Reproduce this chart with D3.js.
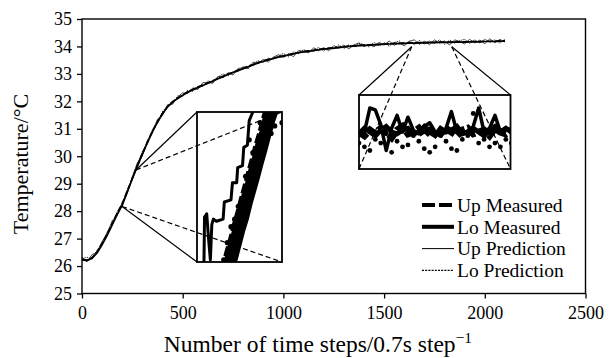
<!DOCTYPE html>
<html>
<head>
<meta charset="utf-8">
<script src="https://cdn.jsdelivr.net/npm/d3@7"></script>
<style>
  body { margin: 0; background: #fff; }
  svg { display: block; }
  svg text { font-family: "Liberation Serif", "Times New Roman", serif; fill: #000; }
</style>
</head>
<body>
<svg id="chart" width="609" height="358"></svg>
<script>
// ---- data ----
const xTicks = [0, 500, 1000, 1500, 2000, 2500];
const yTicks = [25, 26, 27, 28, 29, 30, 31, 32, 33, 34, 35];

const steps = [0, 25, 50, 75, 100, 125, 150, 175, 200, 225, 250, 275, 300, 325, 350, 375, 400, 425, 450, 475,
  500, 525, 550, 575, 600, 625, 650, 675, 700, 725, 750, 775, 800, 825, 850, 875, 900, 925, 950, 975,
  1000, 1025, 1050, 1075, 1100, 1125, 1150, 1175, 1200, 1225, 1250, 1275, 1300, 1325, 1350, 1375, 1400, 1425, 1450, 1475,
  1500, 1525, 1550, 1575, 1600, 1625, 1650, 1675, 1700, 1725, 1750, 1775, 1800, 1825, 1850, 1875, 1900, 1925, 1950, 1975,
  2000, 2025, 2050, 2075, 2100];

const loMeasured = [26.22, 26.2, 26.28, 26.48, 26.78, 27.12, 27.5, 27.88, 28.22, 28.7, 29.18, 29.64, 30.08, 30.5, 30.9, 31.25, 31.55, 31.8, 31.98, 32.1,
  32.22, 32.33, 32.42, 32.5, 32.58, 32.66, 32.74, 32.82, 32.9, 32.98, 33.05, 33.12, 33.19, 33.26, 33.33, 33.4, 33.46, 33.51, 33.56, 33.61,
  33.65, 33.69, 33.73, 33.77, 33.8, 33.83, 33.85, 33.88, 33.9, 33.92, 33.94, 33.96, 33.98, 34.0, 34.01, 34.03, 34.04, 34.05, 34.06, 34.07,
  34.08, 34.09, 34.1, 34.1, 34.11, 34.12, 34.12, 34.13, 34.13, 34.14, 34.14, 34.15, 34.15, 34.15, 34.16, 34.16, 34.16, 34.17, 34.17, 34.17,
  34.18, 34.18, 34.18, 34.19, 34.19];

const upMeasured = [26.24, 26.22, 26.31, 26.52, 26.82, 27.17, 27.55, 27.93, 28.27, 28.74, 29.2, 29.66, 30.1, 30.52, 30.91, 31.26, 31.56, 31.81, 31.99, 32.12,
  32.23, 32.35, 32.43, 32.52, 32.59, 32.68, 32.75, 32.84, 32.91, 33.0, 33.06, 33.14, 33.2, 33.28, 33.34, 33.41, 33.47, 33.53, 33.57, 33.62,
  33.66, 33.7, 33.74, 33.78, 33.81, 33.84, 33.86, 33.89, 33.91, 33.93, 33.95, 33.97, 33.99, 34.01, 34.02, 34.04, 34.05, 34.06, 34.07, 34.08,
  34.09, 34.1, 34.11, 34.11, 34.12, 34.13, 34.13, 34.14, 34.14, 34.15, 34.15, 34.16, 34.16, 34.16, 34.17, 34.17, 34.17, 34.18, 34.18, 34.18,
  34.19, 34.19, 34.19, 34.2, 34.2];

const upPrediction = [26.32, 26.16, 26.42, 26.5, 26.9, 27.18, 27.65, 27.86, 28.32, 28.65, 29.26, 29.76, 30.02, 30.57, 30.87, 31.35, 31.49, 31.88, 31.9, 32.16,
  32.31, 32.28, 32.49, 32.43, 32.68, 32.68, 32.66, 32.91, 32.86, 33.04, 32.96, 33.2, 33.22, 33.2, 33.43, 33.37, 33.53, 33.43, 33.61, 33.7,
  33.6, 33.73, 33.63, 33.85, 33.82, 33.77, 33.95, 33.84, 33.96, 33.84, 34.03, 33.94, 34.05, 33.91, 34.06, 34.13, 33.99, 34.08, 33.98, 34.15,
  34.05, 34.2, 34.04, 34.14, 34.02, 34.19, 34.24, 34.08, 34.19, 34.06, 34.24, 34.12, 34.2, 34.05, 34.24, 34.18, 34.09, 34.26, 34.13, 34.23,
  34.1, 34.28, 34.13, 34.26, 34.16];

const loPrediction = [26.27, 26.32, 26.25, 26.58, 26.82, 27.25, 27.48, 27.99, 28.27, 28.79, 29.14, 29.71, 30.18, 30.45, 30.98, 31.19, 31.64, 31.82, 31.91, 32.2,
  32.18, 32.41, 32.36, 32.55, 32.55, 32.75, 32.69, 32.88, 33.0, 32.92, 33.09, 33.08, 33.28, 33.19, 33.38, 33.48, 33.41, 33.57, 33.53, 33.65,
  33.75, 33.62, 33.8, 33.74, 33.89, 33.78, 33.88, 33.96, 33.83, 33.97, 33.9, 34.06, 33.92, 34.06, 33.99, 34.11, 34.07, 33.98, 34.15, 34.02,
  34.14, 34.01, 34.14, 34.2, 34.07, 34.19, 34.06, 34.22, 34.08, 34.2, 34.12, 34.24, 34.08, 34.23, 34.12, 34.21, 34.26, 34.11, 34.24, 34.12,
  34.27, 34.15, 34.24, 34.12, 34.27];

// magnified region 1 (early rise)
const zoom1Steps = [199, 268];
const zoom1Temps = [28.17, 29.5];
const z1Steps = [216, 219, 222, 225, 228, 231, 234, 237, 240, 243, 246, 249, 252, 255, 258, 261, 264, 267, 270];
const z1LoMeasured = [27.7, 27.82, 27.96, 28.07, 28.21, 28.32, 28.46, 28.58, 28.71, 28.82, 28.96, 29.07, 29.21, 29.31, 29.45, 29.56, 29.7, 29.8, 29.93];
const z1UpMeasured = [27.8, 27.94, 28.06, 28.19, 28.31, 28.44, 28.56, 28.69, 28.81, 28.94, 29.06, 29.19, 29.3, 29.43, 29.55, 29.67, 29.81, 29.91, 30.03];
const z1UpPrediction = [27.52, 27.64, 27.77, 27.9, 28.02, 28.14, 28.27, 28.4, 28.51, 28.65, 28.77, 28.89, 29.02, 29.14, 29.27, 29.4, 29.5, 29.64, 29.76];
const z1LoPrediction = [27.88, 28.02, 28.12, 28.28, 28.43, 28.5, 28.62, 28.66, 28.9, 29.24, 29.12, 29.05, 29.4, 29.18, 29.62, 29.3, 29.37, 29.92, 29.4];
const z1StairSteps = [205.5, 205.8, 206.2, 208, 209.5, 211, 212.2, 213.5, 216, 221.5, 222.5, 228, 229.2, 232.7, 233.5, 237.5, 238.5, 241.5, 243, 246, 247];
const z1StairTemps = [27.95, 28.15, 28.52, 28.55, 28.32, 28.12, 28.45, 28.5, 28.48, 28.5, 28.66, 28.68, 28.84, 28.84, 28.98, 29.0, 29.17, 29.19, 29.42, 29.5, 29.62];

// magnified region 2 (plateau)
const zoom2Steps = [1637, 1836];
const zoom2Temps = [33.99, 33.99];
const z2Steps = [1640, 1647, 1654, 1661, 1668, 1675, 1682, 1689, 1696, 1703, 1710, 1717, 1724, 1731, 1738,
  1745, 1752, 1759, 1766, 1773, 1780, 1787, 1794, 1801, 1808, 1815, 1822, 1829, 1836];
const z2LoMeasured = [34.08, 34.1, 34.23, 34.22, 34.14, 34.0, 34.12, 34.19, 34.1, 34.18, 34.11, 34.09, 34.13, 34.15, 34.1,
  34.09, 34.12, 34.21, 34.1, 34.11, 34.09, 34.13, 34.23, 34.1, 34.12, 34.19, 34.1, 34.12, 34.11];
const z2UpMeasured = [34.1, 34.08, 34.11, 34.09, 34.12, 34.1, 34.07, 34.11, 34.13, 34.09, 34.1, 34.12, 34.08, 34.11, 34.1,
  34.09, 34.12, 34.1, 34.08, 34.11, 34.12, 34.09, 34.1, 34.11, 34.08, 34.12, 34.1, 34.09, 34.11];
const z2UpPrediction = [34.09, 34.12, 34.1, 34.08, 34.11, 34.13, 34.1, 34.09, 34.11, 34.12, 34.09, 34.1, 34.13, 34.1, 34.08,
  34.12, 34.1, 34.11, 34.13, 34.09, 34.1, 34.12, 34.1, 34.08, 34.11, 34.13, 34.1, 34.12, 34.1];
const z2LoPrediction = [34.04, 34.02, 34.0, 34.06, 34.04, 34.09, 33.99, 34.05, 34.02, 34.03, 34.08, 34.05, 34.01, 33.99, 34.02,
  34.08, 34.05, 34.01, 34.0, 34.06, 34.08, 34.2, 34.04, 34.06, 34.02, 34.04, 34.02, 34.06, 34.04];

const legendLabels = ['Up Measured', 'Lo Measured', 'Up Prediction', 'Lo Prediction'];

// ---- drawing ----
const serif = '"Liberation Serif", "Times New Roman", serif';
const svg = d3.select('#chart');
const x = d3.scaleLinear().domain([0, 2500]).range([82, 585.5]);
const y = d3.scaleLinear().domain([25, 35]).range([293.5, 19]);

const styleAxis = g => {
  g.select('.domain').remove();
  g.attr('font-family', serif).attr('font-size', 18);
  g.selectAll('text').style('font-family', serif).style('font-size', '18px');
  g.selectAll('line').attr('stroke', '#000').attr('stroke-width', 1.3);
};

svg.append('g')
  .attr('transform', `translate(0,${y(25)})`)
  .call(d3.axisBottom(x).tickValues(xTicks).tickFormat(d3.format('d')).tickSize(5).tickSizeOuter(0).tickPadding(8))
  .call(styleAxis);

svg.append('g')
  .attr('transform', `translate(${x(0)},0)`)
  .call(d3.axisLeft(y).tickValues(yTicks).tickSize(5).tickSizeOuter(0).tickPadding(5))
  .call(styleAxis);

svg.append('rect')
  .attr('x', x(0)).attr('y', y(35))
  .attr('width', x(2500) - x(0)).attr('height', y(25) - y(35))
  .attr('fill', 'none').attr('stroke', '#000').attr('stroke-width', 1.4);

// main curves
const mainLine = vals => d3.line().x((d, i) => x(steps[i])).y(d => y(d))(vals);
const plot = svg.append('g');
plot.append('path').attr('d', mainLine(loPrediction))
  .attr('fill', 'none').attr('stroke', '#000').attr('stroke-width', 0.8).attr('stroke-dasharray', '1.5 1');
plot.append('path').attr('d', mainLine(upPrediction))
  .attr('fill', 'none').attr('stroke', '#000').attr('stroke-width', 0.7);
plot.append('path').attr('d', mainLine(upMeasured))
  .attr('fill', 'none').attr('stroke', '#000').attr('stroke-width', 1.7).attr('stroke-dasharray', '6 2');
plot.append('path').attr('d', mainLine(loMeasured))
  .attr('fill', 'none').attr('stroke', '#000').attr('stroke-width', 1.7);

// connector + inset helper
function drawInset(id, box, regSteps, regTemps, pairs, dom, draw) {
  const a = [x(regSteps[0]), y(regTemps[0])];
  const b = [x(regSteps[1]), y(regTemps[1])];
  const g = svg.append('g');
  pairs.forEach(([p, corner, dashed]) => {
    const from = p === 0 ? a : b;
    g.append('line')
      .attr('x1', from[0]).attr('y1', from[1])
      .attr('x2', corner[0]).attr('y2', corner[1])
      .attr('stroke', '#000').attr('stroke-width', 1.2)
      .attr('stroke-dasharray', dashed ? '5 3' : null);
  });
  svg.append('clipPath').attr('id', id)
    .append('rect').attr('x', box.x0).attr('y', box.y0)
    .attr('width', box.x1 - box.x0).attr('height', box.y1 - box.y0);
  const ix = d3.scaleLinear().domain(dom.x).range([box.x0, box.x1]);
  const iy = d3.scaleLinear().domain(dom.y).range([box.y1, box.y0]);
  const content = svg.append('g').attr('clip-path', `url(#${id})`);
  draw(content, ix, iy);
  svg.append('rect').attr('x', box.x0).attr('y', box.y0)
    .attr('width', box.x1 - box.x0).attr('height', box.y1 - box.y0)
    .attr('fill', 'none').attr('stroke', '#000').attr('stroke-width', 1.8);
}

const box1 = {x0: 197, x1: 282, y0: 112, y1: 262};
drawInset('clip1', box1, zoom1Steps, zoom1Temps, [
  [0, [box1.x0, box1.y1], false], [0, [box1.x1, box1.y1], true],
  [1, [box1.x0, box1.y0], false], [1, [box1.x1, box1.y0], true]
], {x: [200, 270], y: [28.1, 29.5]}, (g, ix, iy) => {
  const ln = (xs, vs) => d3.line().x((d, i) => ix(xs[i])).y(d => iy(d))(vs);
  g.append('path').attr('d', ln(z1Steps, z1UpPrediction)).attr('fill', 'none').attr('stroke', '#000').attr('stroke-width', 7);
  g.append('path').attr('d', ln(z1Steps, z1LoMeasured)).attr('fill', 'none').attr('stroke', '#000').attr('stroke-width', 9);
  g.append('path').attr('d', ln(z1Steps, z1UpMeasured)).attr('fill', 'none').attr('stroke', '#000').attr('stroke-width', 6).attr('stroke-dasharray', '10 3');
  g.append('path').attr('d', ln(z1StairSteps, z1StairTemps)).attr('fill', 'none').attr('stroke', '#000').attr('stroke-width', 3).attr('stroke-linejoin', 'round');
  g.selectAll('circle').data(z1LoPrediction).join('circle')
    .attr('cx', (d, i) => ix(z1Steps[i])).attr('cy', d => iy(d)).attr('r', 2.6).attr('fill', '#000');
});

const box2 = {x0: 359, x1: 510.5, y0: 95, y1: 169};
drawInset('clip2', box2, zoom2Steps, zoom2Temps, [
  [0, [box2.x0, box2.y0], false], [0, [box2.x0, box2.y1], true],
  [1, [box2.x1, box2.y0], false], [1, [box2.x1, box2.y1], true]
], {x: [1640, 1835], y: [33.9, 34.3]}, (g, ix, iy) => {
  const ln = vs => d3.line().x((d, i) => ix(z2Steps[i])).y(d => iy(d))(vs);
  g.append('path').attr('d', ln(z2UpPrediction)).attr('fill', 'none').attr('stroke', '#000').attr('stroke-width', 5);
  g.append('path').attr('d', ln(z2UpMeasured)).attr('fill', 'none').attr('stroke', '#000').attr('stroke-width', 7).attr('stroke-dasharray', '10 3');
  g.append('path').attr('d', ln(z2LoMeasured)).attr('fill', 'none').attr('stroke', '#000').attr('stroke-width', 3.5).attr('stroke-linejoin', 'round');
  g.selectAll('circle').data(z2LoPrediction).join('circle')
    .attr('cx', (d, i) => ix(z2Steps[i])).attr('cy', d => iy(d)).attr('r', 2.4).attr('fill', '#000');
});

// legend
const legendStyles = [
  {w: 4, dash: '13 4'},
  {w: 4, dash: null},
  {w: 1, dash: null},
  {w: 1.3, dash: '2 1.2'}
];
const legend = svg.append('g').attr('transform', 'translate(422,205)');
legendLabels.forEach((name, i) => {
  const row = legend.append('g').attr('transform', `translate(0,${i * 21.8})`);
  row.append('line').attr('x1', 0).attr('x2', 32).attr('y1', 0).attr('y2', 0)
    .attr('stroke', '#000').attr('stroke-width', legendStyles[i].w)
    .attr('stroke-dasharray', legendStyles[i].dash);
  row.append('text').attr('x', 35).attr('y', 0).attr('dy', '0.35em')
    .style('font-size', '19.5px').text(name);
});

// axis titles
const xt = svg.append('text')
  .attr('x', 318).attr('y', 352)
  .attr('text-anchor', 'middle').style('font-size', '23.5px');
xt.append('tspan').text('Number of time steps/0.7s step');
xt.append('tspan').attr('dy', -9).style('font-size', '15.5px').text('\u22121');

svg.append('text')
  .attr('transform', 'translate(28,164) rotate(-90)')
  .attr('text-anchor', 'middle').style('font-size', '22px')
  .text('Temperature/\u00B0C');
</script>
</body>
</html>
